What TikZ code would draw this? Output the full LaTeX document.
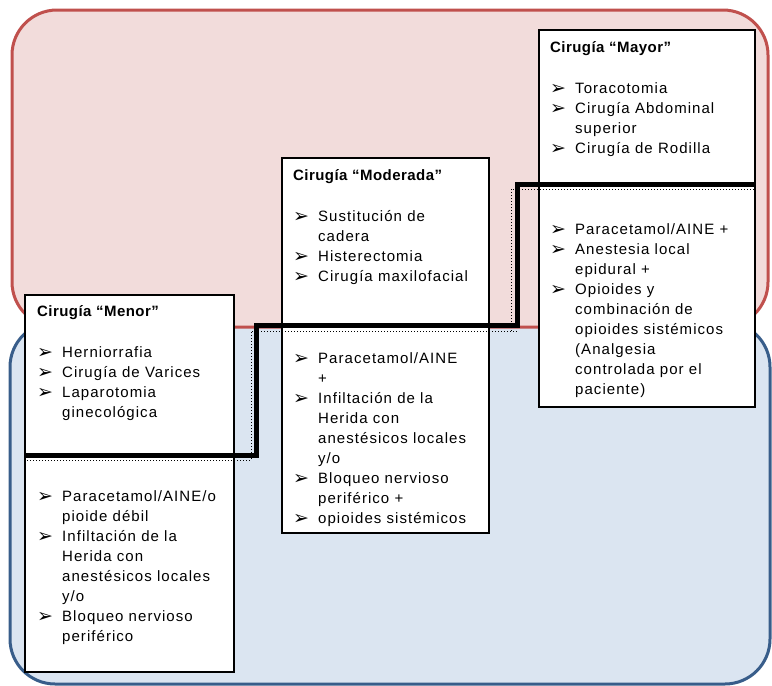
\documentclass[tikz,border=0pt]{standalone}
\usepackage{fontspec}
\setmainfont{Liberation Sans}[LetterSpace=7]
\newfontfamily\titlefont{Liberation Sans}[LetterSpace=3]
\newfontfamily\arrowfont{DejaVu Sans}
\definecolor{redfill}{HTML}{F2DCDB}
\definecolor{reddraw}{HTML}{C0504D}
\definecolor{bluefill}{HTML}{DBE5F1}
\definecolor{bluedraw}{HTML}{385D8A}
\newcommand\bul{\makebox[25pt][l]{\raisebox{-1.5pt}{\arrowfont\fontsize{19}{20}\selectfont ➢}}}
\newcommand\ind{\hspace*{25pt}}
\tikzset{
  region/.style={rounded corners=45pt, line width=3pt},
  catbox/.style={draw=black, fill=white, line width=1.8pt},
  stepline/.style={line width=5pt, line join=miter},
  dotline/.style={line width=1pt, dotted},
  txt/.style={anchor=base west, inner sep=0pt, font=\fontsize{15}{20}\selectfont},
  ttl/.style={anchor=base west, inner sep=0pt, font=\titlefont\bfseries\fontsize{15}{20}\selectfont},
}
\begin{document}
\begin{tikzpicture}[x=1pt,y=-1pt]
\useasboundingbox (0,0) rectangle (772,686);
% regions
\draw[region, draw=bluedraw, fill=bluefill] (10,322) rectangle (770,684);
\draw[region, draw=reddraw, fill=redfill] (12,10) rectangle (768,327);
% boxes
\draw[catbox] (25,295) rectangle (234,672);
\draw[catbox] (282,158) rectangle (489,533);
\draw[catbox] (539,30) rectangle (755,407);
% dotted lines
\coordinate (d0) at (27,460);
\coordinate (d1) at (251,460);
\coordinate (d2) at (251,331);
\coordinate (d3) at (518,331);
\coordinate (e0) at (511,331);
\coordinate (e1) at (511,189);
\coordinate (e2) at (755,189);
\draw[dotline] (d0) -- (d1) -- (d2) -- (d3);
\draw[dotline] (e0) -- (e1) -- (e2);
% step line
\coordinate (s0) at (25,455);
\coordinate (s1) at (256,455);
\coordinate (s2) at (256,325);
\coordinate (s3) at (517,325);
\coordinate (s4) at (517,184);
\coordinate (s5) at (755,184);
\draw[stepline] (s0) -- (s1) -- (s2) -- (s3) -- (s4) -- (s5);
% titles
\node[ttl] (menorT) at (37,316) {Cirugía “Menor”};
\node[ttl] (modT) at (293,180) {Cirugía “Moderada”};
\node[ttl] (mayT) at (550,52) {Cirugía “Mayor”};
% Mayor
\foreach \itm [count=\n] in {{\bul Toracotomia},{\bul Cirugía Abdominal},{\ind superior},{\bul Cirugía de Rodilla}}
  \node[txt] (mayA-\n) at (550,73+20*\n) {\itm};
\foreach \itm [count=\n] in {{\bul Paracetamol/AINE +},{\bul Anestesia local},{\ind epidural +},{\bul Opioides y},{\ind combinación de},{\ind opioides sistémicos},{\ind (Analgesia},{\ind controlada por el},{\ind paciente)}}
  \node[txt] (mayB-\n) at (550,214+20*\n) {\itm};
% Moderada
\foreach \itm [count=\n] in {{\bul Sustitución de},{\ind cadera},{\bul Histerectomia},{\bul Cirugía maxilofacial}}
  \node[txt] (modA-\n) at (293,201+20*\n) {\itm};
\foreach \itm [count=\n] in {{\bul Paracetamol/AINE},{\ind +},{\bul Infiltación de la},{\ind Herida con},{\ind anestésicos locales},{\ind y/o},{\bul Bloqueo nervioso},{\ind periférico +},{\bul opioides sistémicos}}
  \node[txt] (modB-\n) at (293,343+20*\n) {\itm};
% Menor
\foreach \itm [count=\n] in {{\bul Herniorrafia},{\bul Cirugía de Varices},{\bul Laparotomia},{\ind ginecológica}}
  \node[txt] (menA-\n) at (37,337+20*\n) {\itm};
\foreach \itm [count=\n] in {{\bul Paracetamol/AINE/o},{\ind pioide débil},{\bul Infiltación de la},{\ind Herida con},{\ind anestésicos locales},{\ind y/o},{\bul Bloqueo nervioso},{\ind periférico}}
  \node[txt] (menB-\n) at (37,481+20*\n) {\itm};
\end{tikzpicture}
\end{document}
